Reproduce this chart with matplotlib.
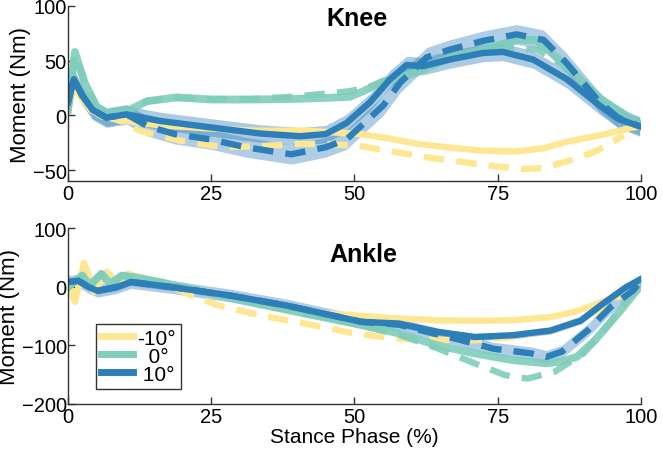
import numpy as np
import matplotlib.pyplot as plt

plt.rcParams['font.family'] = ['Liberation Sans', 'DejaVu Sans']

amarillo = '#fde792'
verde = '#7fcdbb'
azul = '#2c7fb8'
banda = '#8fb8dc'

# ---- Rodilla (Knee) ----
kx_y_sol = [0, 1, 2.5, 4, 6, 8, 10, 16, 25, 33, 42, 51, 56, 61, 67, 72, 78, 83, 87, 93, 98.5, 100]
kv_y_sol = [5, 25, 15, 5, -1, -3, -5, -9, -12, -14, -14, -17, -21, -26, -29.5, -32, -33, -30, -24, -18, -11, -10]
kx_y_das = [0, 1, 2.5, 4, 6, 8, 10.2, 12.5, 19.6, 27, 33.6, 40.5, 45, 51, 56.7, 63.7, 72.4, 79.3, 83, 87, 91, 94, 97]
kv_y_das = [5, 25, 15, 5, -1, -3, -7, -14, -23, -29, -28, -26, -26, -28, -33, -39, -45, -49, -48, -42, -35, -28, -18]

kx_g_sol = [0, 1.2, 2.9, 5, 6.8, 10.3, 13.8, 19, 25, 32, 39, 45, 49.2, 51.5, 55, 60.8, 66.6, 72.4, 78.3, 81.8, 87, 93, 99.2, 100]
kv_g_sol = [5, 58, 30, 8, 2, 4, 13, 16.5, 14.5, 14.5, 15, 16, 17, 22, 31, 39, 53, 60, 69, 69, 45, 15, -6, -8]
kx_g_das = [0, 1.2, 2.9, 5, 6.8, 10.3, 13.8, 19, 25, 32, 39, 45, 49, 52, 55, 60.8, 66.6, 72.4, 78, 82, 87, 93, 99.2]
kv_g_das = [5, 56, 30, 8, 2, 4, 13, 16, 15, 15, 17, 20, 22, 25, 31, 40, 51, 57, 62, 60, 44, 15, -6]

kx_b_sol = [0, 1, 2.5, 4.3, 6.7, 10.2, 16, 25, 33.6, 40.5, 45, 48.6, 52.7, 56.2, 59.1, 62, 66.6, 72.4, 75.9, 81.2, 87.1, 92.8, 96, 99.8]
kv_b_sol = [12, 33, 18, 5, -2, 1, -5, -11, -16.5, -19, -17, -7, 12, 33, 46, 45, 51, 57, 58, 51, 33, 9, -3, -10]
kx_b_das = [0, 1, 2.5, 4.3, 6.7, 10.2, 14, 18.6, 25, 31, 39, 45, 48.6, 51.5, 55, 58, 62.6, 66.6, 72.4, 78.3, 83, 87, 92.8, 96, 99.8]
kv_b_das = [12, 33, 18, 5, -2, 1, -10, -17, -22, -29, -35.5, -29, -22, -8, 9, 30, 53, 60, 68, 74, 69, 48, 12, -2, -10]
k_sd_sol = 8
k_sd_das = 9

# ---- Tobillo (Ankle) ----
ax_y_sol = [0, 1.2, 2.8, 4.5, 6.8, 8.8, 10.4, 13.7, 18, 25, 32, 38, 44, 50, 57, 64.4, 71, 77.6, 84.2, 88, 90.8, 93.5, 96, 100]
av_y_sol = [8, -26, 41, -9, 25, 5, 22, 13, 3, -10, -25, -40, -45, -49, -54, -57.5, -58, -57.5, -52, -44, -35, -25, -15, 5]
ax_y_das = [0, 1.2, 2.8, 4.5, 6.8, 8.8, 10.4, 13.7, 18, 21.6, 26.2, 33.5, 41.4, 50, 57.8, 64.4, 71, 77.6, 82, 86, 89, 92, 96, 100]
av_y_das = [8, -26, 41, -9, 25, 5, 22, 13, 0, -15, -32, -49, -63, -80, -89, -91, -91.5, -86, -78, -69, -58, -43, -18, 5]

ax_g_sol = [0, 1, 2.5, 3.8, 5.8, 7.4, 9.4, 11.7, 16, 21.6, 31.5, 41.4, 50, 57.8, 64.4, 71, 77.6, 83.5, 86, 88.8, 92, 96, 100]
av_g_sol = [-1, 8, 19, 2, 22, 5, 19, 16, 8, -4, -26, -46, -63, -80, -100, -114, -125.5, -131, -128, -120, -91.5, -46, 2]
ax_g_das = [0, 1, 2.5, 3.8, 5.8, 7.4, 9.4, 11.7, 16, 21.6, 31.5, 41.4, 50, 57.8, 64.4, 71, 76.3, 80.2, 85, 90, 94, 98.7, 100]
av_g_das = [-1, 8, 19, 2, 22, 5, 19, 16, 8, -4, -26, -46, -63, -82, -105, -131, -151, -157, -145, -114, -69, -6, 0]

ax_b_sol = [0, 1.8, 3.5, 5.1, 8.4, 11, 18.3, 28.2, 38, 44.6, 51.2, 57.8, 64.4, 71, 77.6, 84.2, 89.5, 93.4, 97.4, 100]
av_b_sol = [8, 10, 0, -7, -1, 8, -1, -15, -32, -46, -60, -63, -77, -86, -83, -75, -58, -29, -1, 13]
ax_b_das = [0, 1.8, 3.5, 5.1, 8.4, 11, 18.3, 28.2, 38, 44.6, 51.2, 57.8, 63, 67.7, 74.3, 80.9, 83.5, 86.2, 90.8, 94.7, 98.7, 100]
av_b_das = [8, 10, 0, -7, -1, 8, -1, -15, -32, -46, -60, -65, -78, -89, -106, -114, -120, -111, -74, -35, -6, 10]
a_sd_sol = 6
a_sd_das = 11

etiquetas = ['-10°', '  0°', ' 10°']
xticks = [0, 25, 50, 75, 100]

fig = plt.figure(figsize=(6.63, 4.6), dpi=100)
ax1 = fig.add_axes([0.1026, 0.604, 0.864, 0.381])
ax2 = fig.add_axes([0.1026, 0.12, 0.864, 0.382])

lw = 4.6
dash = (3.2, 1.9)


def dibujar(ax, ys, yd, gs, gd, bs, bd, sd_s, sd_d):
    ax.fill_between(bd[0], np.array(bd[1]) - sd_d, np.array(bd[1]) + sd_d, color=banda, alpha=0.7, lw=0)
    ax.fill_between(bs[0], np.array(bs[1]) - sd_s, np.array(bs[1]) + sd_s, color=azul, alpha=0.4, lw=0)
    ax.plot(ys[0], ys[1], color=amarillo, lw=lw, solid_capstyle='butt', solid_joinstyle='round')
    ax.plot(yd[0], yd[1], color=amarillo, lw=lw, dashes=dash)
    ax.plot(gs[0], gs[1], color=verde, lw=lw + 1, alpha=0.9, solid_joinstyle='round')
    ax.plot(gd[0], gd[1], color=verde, lw=lw, dashes=dash, alpha=0.9)
    ax.plot(bd[0], bd[1], color=azul, lw=lw, dashes=dash)
    ax.plot(bs[0], bs[1], color=azul, lw=lw, solid_joinstyle='round')


dibujar(ax1, (kx_y_sol, kv_y_sol), (kx_y_das, kv_y_das), (kx_g_sol, kv_g_sol), (kx_g_das, kv_g_das),
        (kx_b_sol, kv_b_sol), (kx_b_das, kv_b_das), k_sd_sol, k_sd_das)
dibujar(ax2, (ax_y_sol, av_y_sol), (ax_y_das, av_y_das), (ax_g_sol, av_g_sol), (ax_g_das, av_g_das),
        (ax_b_sol, av_b_sol), (ax_b_das, av_b_das), a_sd_sol, a_sd_das)

for ax in (ax1, ax2):
    ax.set_xlim(0, 100)
    ax.set_xticks(xticks)
    ax.spines['top'].set_visible(False)
    ax.spines['right'].set_visible(False)
    for s in ('left', 'bottom'):
        ax.spines[s].set_color('#333333')
        ax.spines[s].set_linewidth(1.0)
    ax.tick_params(direction='in', length=5, width=1, color='#333333', labelsize=14.5, pad=2)
    ax.tick_params(axis='y', pad=1)
    ax.set_ylabel('Moment (Nm)', fontsize=16, labelpad=1)

ax1.set_ylim(-60, 100)
ax1.set_yticks([-50, 0, 50, 100])
ax2.set_ylim(-200, 100)
ax2.set_yticks([-200, -100, 0, 100])
ax2.set_xlabel('Stance Phase (%)', fontsize=15, labelpad=1)

ax1.text(0.504, 0.93, 'Knee', transform=ax1.transAxes, ha='center', va='center', fontsize=18, fontweight='bold')
ax2.text(0.515, 0.852, 'Ankle', transform=ax2.transAxes, ha='center', va='center', fontsize=18, fontweight='bold')

handles = [plt.Line2D([], [], color=c, lw=5) for c in (amarillo, verde, azul)]
leg = ax2.legend(handles, etiquetas, loc='lower left', bbox_to_anchor=(0.049, 0.085), fontsize=15,
                 frameon=True, fancybox=False, framealpha=1, edgecolor='#333333', borderpad=0.25,
                 labelspacing=-0.05, handlelength=1.5, handletextpad=0.2, borderaxespad=0)
leg.get_frame().set_linewidth(1.0)

fig.savefig('out.png', dpi=100)
